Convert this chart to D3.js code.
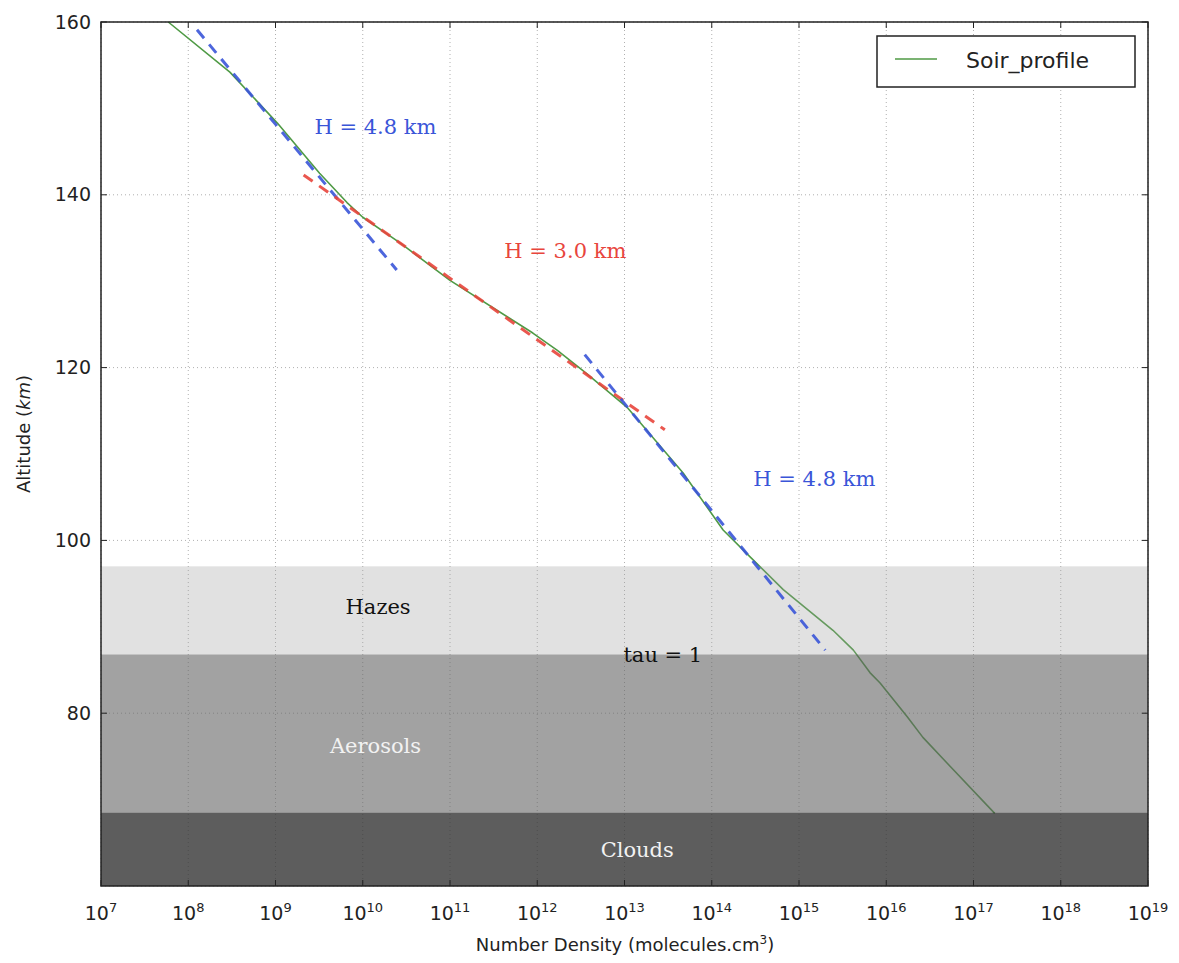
<!DOCTYPE html>
<html><head><meta charset="utf-8">
<script src="https://cdn.jsdelivr.net/npm/d3@7"></script>
<style>body{margin:0;background:#fff}</style>
</head><body>
<svg id="c" width="1179" height="963"></svg>
<script>
// ---- data ----
const profileDensity = [5.9e7,3.0e8,1.05e9,3.2e9,6.6e9,1.0e10,2.7e10,1.0e11,8.9e11,1.7e12,3.6e12,1.07e13,4.7e13,1.35e14,2.75e14,6.6e14,2.45e15,4.2e15,6.5e15,8.5e15,1.74e16,2.63e16,5.0e16,1.75e17];
const profileAlt     = [160,154.2,148.3,142.5,139.1,137.4,134.4,130.1,124.0,122.0,119.4,115.4,107.8,101.2,98.1,94.3,89.6,87.3,84.7,83.5,79.6,77.2,74.2,68.4];
const fitUpperDensity = [1.26e8, 2.45e10];
const fitUpperAlt     = [159.1, 131.3];
const fitMidDensity   = [2.1e9, 2.9e13];
const fitMidAlt       = [142.3, 112.8];
const fitLowerDensity = [3.5e12, 2.0e15];
const fitLowerAlt     = [121.5, 87.3];
const bandNames  = ["Hazes","Aerosols","Clouds"];
const bandTop    = [97, 86.8, 68.5];
const bandBottom = [86.8, 68.5, 60];
const xTickExps  = [7,8,9,10,11,12,13,14,15,16,17,18,19];
const yTicks     = [80,100,120,140,160];
const yGrid      = [60,80,100,120,140,160];
// annotations: text, density, altitude
const annoText = ["H = 4.8 km","H = 3.0 km","H = 4.8 km","Hazes","Aerosols","Clouds","tau = 1"];
const annoDensity = [1.4e10, 2.1e12, 1.5e15, 1.5e10, 1.4e10, 1.4e13, 2.75e13];
const annoAlt = [147.7, 133.3, 106.9, 92.1, 76.0, 64.0, 86.6];

const svg = d3.select("#c");
const L=101, T=22, R=1148, B=886;
const x = d3.scaleLog().domain([1e7,1e19]).range([L,R]);
const y = d3.scaleLinear().domain([60,160]).range([B,T]);

// grid
const g = svg.append("g");
xTickExps.forEach(e=>{
  g.append("line").attr("x1",x(Math.pow(10,e))).attr("x2",x(Math.pow(10,e)))
   .attr("y1",T).attr("y2",B).attr("stroke","#b0b0b0").attr("stroke-width",1).attr("stroke-dasharray","1,3");
});
yGrid.forEach(v=>{
  g.append("line").attr("y1",y(v)).attr("y2",y(v)).attr("x1",L).attr("x2",R)
   .attr("stroke","#b0b0b0").attr("stroke-width",1).attr("stroke-dasharray","1,3");
});

// profile
const line = d3.line().x(d=>x(d[0])).y(d=>y(d[1]));
svg.append("path").datum(profileDensity.map((d,i)=>[d,profileAlt[i]]))
  .attr("d",line).attr("fill","none").attr("stroke","#4f9a45").attr("stroke-width",1.6)
  .attr("stroke-linejoin","round");

// bands (semi-transparent overlays)
const bandFill = ["#9b9b9b","#646464","#353535"];
const bandAlpha = [0.3, 0.6, 0.8];
svg.selectAll("rect.band").data(bandNames).enter().append("rect")
  .attr("x",L).attr("width",R-L)
  .attr("y",(d,i)=>y(bandTop[i])).attr("height",(d,i)=>y(bandBottom[i])-y(bandTop[i]))
  .attr("fill",(d,i)=>bandFill[i]).attr("fill-opacity",(d,i)=>bandAlpha[i]);

function fit(ds, as, col){
  svg.append("path").datum(ds.map((d,i)=>[d,as[i]])).attr("d",line)
    .attr("fill","none").attr("stroke",col).attr("stroke-width",3).attr("stroke-dasharray","11,8").attr("opacity",0.9);
}
fit(fitUpperDensity, fitUpperAlt, "#3a55d8");
fit(fitMidDensity, fitMidAlt, "#e8453c");
fit(fitLowerDensity, fitLowerAlt, "#3a55d8");

// annotations
const annoColor = ["#3a55d8","#e8453c","#3a55d8","#111","#f2f2f2","#f2f2f2","#111"];
svg.selectAll("text.anno").data(annoText).enter().append("text")
  .attr("x",(d,i)=>x(annoDensity[i])).attr("y",(d,i)=>y(annoAlt[i]))
  .attr("text-anchor","middle").attr("dominant-baseline","middle")
  .attr("font-family","DejaVu Serif, serif").attr("font-size",21)
  .attr("fill",(d,i)=>annoColor[i]).text(d=>d);

// frame
svg.append("rect").attr("x",L).attr("y",T).attr("width",R-L).attr("height",B-T)
  .attr("fill","none").attr("stroke","#222").attr("stroke-width",1.5);

// ticks
const font = "DejaVu Sans, sans-serif";
xTickExps.forEach(e=>{
  const px = x(Math.pow(10,e));
  svg.append("line").attr("x1",px).attr("x2",px).attr("y1",B).attr("y2",B-6).attr("stroke","#222");
  svg.append("line").attr("x1",px).attr("x2",px).attr("y1",T).attr("y2",T+6).attr("stroke","#222");
  const t = svg.append("text").attr("x",px).attr("y",920).attr("text-anchor","middle")
    .attr("font-family",font).attr("font-size",19).attr("fill","#222");
  t.append("tspan").text("10");
  t.append("tspan").attr("dy",-8).attr("font-size",13).text(e);
});
yTicks.forEach(v=>{
  svg.append("line").attr("x1",L).attr("x2",L+6).attr("y1",y(v)).attr("y2",y(v)).attr("stroke","#222");
  svg.append("line").attr("x1",R).attr("x2",R-6).attr("y1",y(v)).attr("y2",y(v)).attr("stroke","#222");
  svg.append("text").attr("x",91).attr("y",y(v)).attr("dy","0.35em").attr("text-anchor","end")
    .attr("font-family",font).attr("font-size",19).attr("fill","#222").text(v);
});

// axis labels
const xl = svg.append("text").attr("x",625).attr("y",951).attr("text-anchor","middle")
  .attr("font-family",font).attr("font-size",18).attr("fill","#222");
xl.append("tspan").text("Number Density (molecules.cm");
xl.append("tspan").attr("dy",-7).attr("font-size",12).text("3");
xl.append("tspan").attr("dy",7).text(")");
const yl = svg.append("text").attr("transform","translate(30,"+((T+B)/2-20)+") rotate(-90)")
  .attr("text-anchor","middle").attr("font-family",font).attr("font-size",18).attr("fill","#222");
yl.append("tspan").text("Altitude (");
yl.append("tspan").attr("font-style","italic").text("km");
yl.append("tspan").text(")");

// legend
svg.append("rect").attr("x",877).attr("y",36).attr("width",258).attr("height",51)
  .attr("fill","#fff").attr("stroke","#222").attr("stroke-width",1.5);
svg.append("line").attr("x1",895).attr("x2",937).attr("y1",59).attr("y2",59).attr("stroke","#4f9a45").attr("stroke-width",1.6);
svg.append("text").attr("x",966).attr("y",60).attr("dy","0.35em").attr("font-family",font)
  .attr("font-size",22).attr("fill","#222").text("Soir_profile");
</script>
</body></html>
